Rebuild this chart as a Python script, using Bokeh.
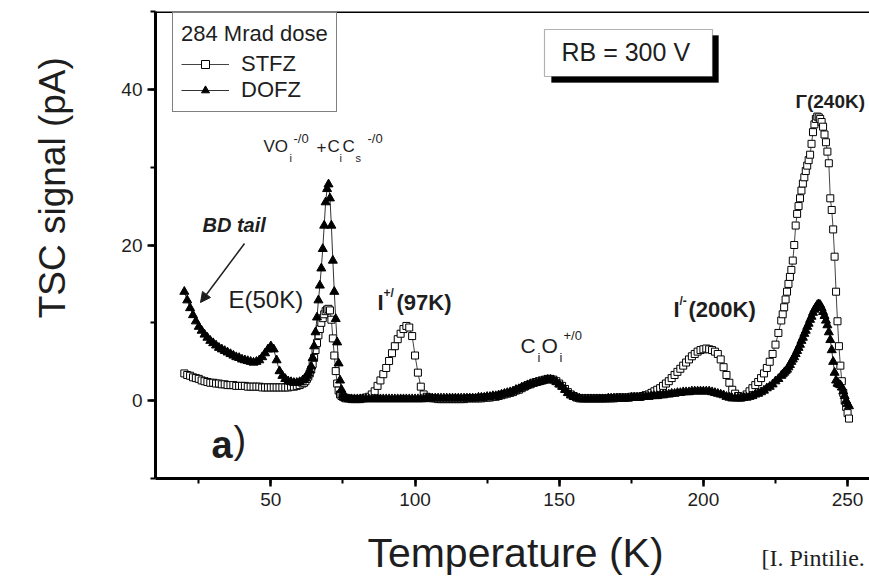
import math
import sys
from bokeh.plotting import figure
from bokeh.layouts import row, column
from bokeh.models import (Range1d, SingleIntervalTicker, Label, Span, BoxAnnotation,
                          Arrow, NormalHead, Legend, LegendItem, ColumnDataSource)
from bokeh.embed import file_html
from bokeh.resources import INLINE

# ---------------- data ----------------
temperature_K = [
    20, 21, 22, 23, 24, 25, 26, 27, 28, 29,
    30, 31, 32, 33, 34, 35, 36, 37, 38, 39,
    40, 41, 42, 43, 44, 45, 46, 47, 48, 49,
    50, 51, 52, 53, 54, 55, 56, 57, 58, 59,
    60, 61,
    61.5, 62, 62.5, 63, 63.5, 64, 64.5, 65, 65.5, 66,
    66.5, 67, 67.5, 68, 68.5, 69, 69.5, 70, 70.5, 71,
    71.5, 72, 72.5, 73, 73.5, 74, 74.5, 75, 75.5, 76,
    77, 78, 79, 80, 81, 82, 83, 84, 85, 86,
    87, 88, 89, 90, 91, 92, 93, 94, 95, 96,
    97, 98, 99, 100, 101, 102, 103, 104, 105, 106,
    107, 108, 109, 110, 111, 112, 113, 114, 115, 116,
    117, 118, 119, 120, 121, 122, 123, 124, 125, 126,
    127, 128, 129, 130, 131, 132, 133, 134, 135, 136,
    137, 138, 139, 140, 141, 142, 143, 144, 145, 146,
    147, 148, 149, 150, 151, 152, 153, 154, 155, 156,
    157, 158, 159, 160, 161, 162, 163, 164, 165, 166,
    167, 168, 169, 170, 171, 172, 173, 174, 175, 176,
    177, 178, 179, 180, 181, 182, 183, 184, 185, 186,
    187, 188, 189, 190, 191, 192, 193, 194, 195, 196,
    197, 198, 199, 200, 201, 202, 203, 204, 205, 206,
    207, 208, 209, 210, 211, 212, 213, 214, 215, 216,
    217, 218, 219, 220, 221, 222, 223, 224, 225, 226,
    227,
    227.5, 228, 228.5, 229, 229.5, 230, 230.5, 231, 231.5, 232,
    232.5, 233, 233.5, 234, 234.5, 235, 235.5, 236, 236.5, 237,
    237.5, 238, 238.5, 239, 239.5, 240, 240.5, 241, 241.5, 242,
    242.5, 243, 243.5, 244, 244.5, 245, 245.5, 246, 246.5, 247,
    247.5, 248, 248.5, 249, 249.5, 250, 250.5,
]

stfz_pA = [
    3.5, 3.3, 3.2, 3.0, 2.9, 2.8, 2.6, 2.5, 2.4, 2.3,
    2.3, 2.2, 2.2, 2.1, 2.1, 2.0, 2.0, 2.0, 1.9, 1.9,
    1.9, 1.9, 1.8, 1.8, 1.8, 1.8, 1.8, 1.7, 1.7, 1.7,
    1.7, 1.7, 1.7, 1.7, 1.7, 1.7, 1.7, 1.8, 1.8, 1.9,
    2.0, 2.2,
    2.3, 2.5, 2.8, 3.1, 3.5, 4.0, 4.7, 5.5, 6.5, 7.4,
    8.4, 9.2, 10.0, 10.6, 11.1, 11.5, 11.7, 11.8, 11.6, 10.4,
    8.0, 5.8, 3.8, 2.2, 1.3, 0.8, 0.6, 0.5, 0.4, 0.3,
    0.3, 0.2, 0.2, 0.2, 0.2, 0.3, 0.4, 0.5, 0.8, 1.2,
    1.9, 2.6, 3.4, 4.2, 5.1, 6.1, 7.0, 7.9, 8.6, 9.2,
    9.6, 9.4, 8.3, 5.8, 3.6, 1.8, 0.8, 0.5, 0.4, 0.3,
    0.3, 0.2, 0.2, 0.2, 0.2, 0.2, 0.2, 0.2, 0.2, 0.2,
    0.2, 0.3, 0.3, 0.3, 0.3, 0.3, 0.3, 0.4, 0.4, 0.4,
    0.5, 0.5, 0.6, 0.7, 0.8, 0.9, 1.0, 1.1, 1.3, 1.4,
    1.6, 1.8, 2.0, 2.1, 2.3, 2.4, 2.5, 2.6, 2.7, 2.8,
    2.8, 2.7, 2.5, 2.2, 1.9, 1.5, 1.1, 0.8, 0.6, 0.4,
    0.3, 0.3, 0.3, 0.3, 0.3, 0.3, 0.3, 0.3, 0.3, 0.3,
    0.3, 0.3, 0.3, 0.4, 0.4, 0.4, 0.4, 0.4, 0.5, 0.5,
    0.5, 0.5, 0.6, 0.7, 0.8, 1.0, 1.2, 1.4, 1.6, 1.9,
    2.2, 2.5, 2.9, 3.3, 3.7, 4.1, 4.5, 4.9, 5.3, 5.7,
    6.0, 6.3, 6.5, 6.6, 6.7, 6.6, 6.5, 6.3, 6.0, 5.3,
    4.3, 3.3, 2.3, 1.4, 0.9, 0.6, 0.4, 0.5, 0.8, 1.2,
    1.6, 2.0, 2.4, 2.9, 3.5, 4.2, 5.0, 6.0, 7.2, 8.7,
    10.3,
    11.1, 12.0, 13.0, 14.0, 15.0, 15.9, 16.8, 18.0, 20.0, 22.5,
    24.0, 25.0, 26.0, 27.0, 27.9, 28.7, 29.5, 30.2, 30.9, 31.6,
    33.0, 34.5, 35.5, 36.2, 36.5, 36.4, 36.2, 35.8, 35.2, 34.2,
    33.2, 32.0, 30.5, 26.0, 24.5, 22.0, 18.5, 14.0, 10.2, 7.0,
    4.5, 2.5, 1.0, 0.0, -0.8, -1.6, -2.3,
]

dofz_pA = [
    14.0, 12.9, 11.9, 11.0, 10.2, 9.5, 9.0, 8.5, 8.1, 7.7,
    7.4, 7.1, 6.8, 6.6, 6.4, 6.2, 6.0, 5.8, 5.6, 5.5,
    5.3, 5.2, 5.1, 5.0, 4.9, 5.0, 5.2, 5.6, 6.1, 6.6,
    7.0, 6.6, 5.2, 3.8, 3.2, 2.8, 2.5, 2.4, 2.3, 2.3,
    2.4, 2.6,
    2.7, 2.9, 3.2, 3.5, 3.9, 4.4, 5.5, 7.0, 8.8, 10.7,
    12.9, 14.8, 17.0, 19.5, 22.5, 25.5, 27.2, 27.8, 26.0, 22.5,
    18.0, 14.0, 10.5, 7.5, 4.8, 2.6, 1.4, 0.7, 0.4, 0.3,
    0.2, 0.2, 0.2, 0.2, 0.2, 0.2, 0.2, 0.2, 0.2, 0.2,
    0.2, 0.2, 0.2, 0.2, 0.2, 0.2, 0.2, 0.2, 0.2, 0.2,
    0.2, 0.2, 0.2, 0.2, 0.2, 0.2, 0.2, 0.3, 0.3, 0.3,
    0.3, 0.3, 0.3, 0.3, 0.3, 0.3, 0.3, 0.3, 0.3, 0.3,
    0.3, 0.3, 0.3, 0.3, 0.3, 0.4, 0.4, 0.4, 0.5, 0.5,
    0.6, 0.6, 0.7, 0.8, 0.9, 1.0, 1.1, 1.2, 1.4, 1.5,
    1.7, 1.8, 2.0, 2.1, 2.2, 2.3, 2.4, 2.5, 2.6, 2.7,
    2.7, 2.6, 2.4, 2.1, 1.8, 1.4, 1.0, 0.7, 0.5, 0.4,
    0.3, 0.2, 0.2, 0.2, 0.2, 0.2, 0.2, 0.2, 0.2, 0.2,
    0.3, 0.3, 0.3, 0.3, 0.3, 0.3, 0.3, 0.3, 0.4, 0.4,
    0.4, 0.4, 0.5, 0.5, 0.5, 0.6, 0.6, 0.6, 0.7, 0.7,
    0.8, 0.8, 0.9, 0.9, 1.0, 1.0, 1.1, 1.1, 1.1, 1.2,
    1.2, 1.2, 1.2, 1.2, 1.2, 1.2, 1.1, 1.0, 0.9, 0.8,
    0.7, 0.5, 0.4, 0.3, 0.3, 0.3, 0.3, 0.4, 0.4, 0.5,
    0.6, 0.8, 0.9, 1.1, 1.3, 1.6, 1.8, 2.1, 2.5, 2.8,
    3.2,
    3.4, 3.6, 3.8, 4.0, 4.3, 4.6, 5.0, 5.3, 5.6, 6.0,
    6.4, 6.8, 7.2, 7.7, 8.1, 8.6, 9.0, 9.5, 9.9, 10.4,
    10.8, 11.3, 11.7, 12.0, 12.3, 12.4, 12.3, 11.9, 11.4, 10.9,
    10.3, 9.7, 8.8, 7.8, 6.5, 5.0, 3.6, 2.6, 2.2, 2.1,
    2.0, 1.7, 1.2, 0.6, 0.0, -0.4, -0.7,
]

series_names = ["STFZ", "DOFZ"]
legend_title = "284 Mrad dose"
x_label = "Temperature (K)"
y_label = "TSC signal (pA)"
credit = "[I. Pintilie."

print(len(temperature_K), len(stfz_pA), len(dofz_pA), file=sys.stderr)

# ---------------- layout (page pixels) ----------------
W, H = 869, 579
LEFT_W = 100          # strip holding the vertical axis title
BOT_H = 57            # strip holding the horizontal axis title
MAIN_W, MAIN_H = W - LEFT_W, H - BOT_H
FL, FT, FB, FR = 155, 11, 478, 869
X0, X1, Y0, Y1 = 10, 257.6, -10, 50
INK = "#1e1e1e"
SANS = "Liberation Sans"


def X(px):
    return X0 + (px - FL) * (X1 - X0) / (FR - FL)


def Y(py):
    return Y0 + (FB - py) * (Y1 - Y0) / (FB - FT)


def plain_fig(w, h, x0, x1, y_top, y_bot):
    f = figure(width=w, height=h, output_backend="svg", toolbar_location=None,
               x_range=Range1d(x0, x1), y_range=Range1d(y_bot, y_top),
               x_axis_type=None, y_axis_type=None,
               min_border=0, min_border_left=0, min_border_right=0,
               min_border_top=0, min_border_bottom=0)
    f.outline_line_color = None
    f.grid.visible = False
    f.background_fill_color = "white"
    f.border_fill_color = "white"
    return f


p = figure(width=MAIN_W, height=MAIN_H, output_backend="svg", toolbar_location=None,
           x_range=Range1d(X0, X1), y_range=Range1d(Y0, Y1),
           min_border_left=FL - LEFT_W, min_border_right=0, min_border_top=FT,
           min_border_bottom=MAIN_H - FB)
p.outline_line_color = None
p.grid.visible = False
p.background_fill_color = "white"
p.border_fill_color = "white"

p.xaxis.ticker = SingleIntervalTicker(interval=50, num_minor_ticks=2)
p.yaxis.ticker = SingleIntervalTicker(interval=20, num_minor_ticks=2)
for ax in (p.xaxis[0], p.yaxis[0]):
    ax.axis_line_width = 3
    ax.axis_line_color = "black"
    ax.major_tick_line_width = 2.5
    ax.minor_tick_line_width = 2
    ax.major_tick_line_color = "black"
    ax.minor_tick_line_color = "black"
    ax.major_tick_out = 8
    ax.major_tick_in = 0
    ax.minor_tick_out = 5
    ax.minor_tick_in = 0
    ax.major_label_text_font = SANS
    ax.major_label_text_font_size = "19px"
    ax.major_label_text_color = INK
p.xaxis[0].major_label_standoff = 6
p.yaxis[0].major_label_standoff = 5

# top frame line
p.add_layout(Span(location=Y1, dimension="width", line_color="black", line_width=3))

src = ColumnDataSource(dict(T=temperature_K, stfz=stfz_pA, dofz=dofz_pA))

s_line = p.line("T", "stfz", source=src, line_color="#444444", line_width=1)
s_pts = p.scatter("T", "stfz", source=src, marker="square", size=7,
                  fill_color="white", line_color="black", line_width=1)
d_line = p.line("T", "dofz", source=src, line_color="#333333", line_width=1)
d_pts = p.scatter("T", "dofz", source=src, marker="triangle", size=9,
                  fill_color="black", line_color="black", line_width=1)

legend = Legend(items=[LegendItem(label=series_names[0], renderers=[s_line, s_pts]),
                       LegendItem(label=series_names[1], renderers=[d_line, d_pts])],
                title=legend_title, location=(17, 366))
legend.padding = 8
legend.spacing = 0
legend.margin = 0
legend.glyph_width = 48
legend.glyph_height = 20
legend.label_height = 24
legend.label_standoff = 12
legend.title_standoff = 4
legend.border_line_color = "black"
legend.border_line_width = 1.2
legend.background_fill_color = "white"
legend.background_fill_alpha = 1
legend.title_text_font = SANS
legend.title_text_font_size = "22px"
legend.title_text_font_style = "normal"
legend.title_text_color = INK
legend.label_text_font = SANS
legend.label_text_font_size = "22px"
legend.label_text_color = INK
p.add_layout(legend)


def lab(fig, text, x, y, size, style="normal", font=SANS, align="left",
        baseline="middle", angle=0.0):
    fig.add_layout(Label(x=x, y=y, text=text, text_font=font,
                         text_font_size=f"{size}px", text_font_style=style,
                         text_color=INK, text_align=align, text_baseline=baseline,
                         angle=angle))


def plab(text, px, py, size, **kw):
    lab(p, text, X(px), Y(py), size, **kw)


# RB box with shadow
p.add_layout(BoxAnnotation(left=X(551), right=X(718), top=Y(35), bottom=Y(82),
                           fill_color="black", fill_alpha=1, line_color="black"))
p.add_layout(BoxAnnotation(left=X(544), right=X(712), top=Y(29), bottom=Y(76),
                           fill_color="white", fill_alpha=1, line_color="black",
                           line_width=1.2))
plab("RB = 300 V", 561, 51, 25)

# VO_i^-/0 + C_iC_s^-/0
plab("VO", 263, 146, 17)
plab("i", 289, 157, 11)
plab("-/0", 293, 138, 13)
plab("+", 316, 146, 17)
plab("C", 327, 146, 17)
plab("i", 339, 157, 11)
plab("C", 342, 146, 17)
plab("s", 355, 157, 11)
plab("-/0", 367, 138, 13)

# BD tail
plab("BD tail", 202, 224, 20, style="bold italic")
p.add_layout(Arrow(end=NormalHead(size=10, fill_color=INK, line_color=INK),
                   x_start=X(244), y_start=Y(243), x_end=X(200), y_end=Y(302),
                   line_color=INK, line_width=1.5))

plab("E(50K)", 228, 299, 24)

plab("I", 377, 302, 22, style="bold")
plab("+/", 383, 292, 12, style="bold")
plab("(97K)", 396, 302, 22, style="bold")

plab("C", 520, 345, 21)
plab("i", 537, 357, 13)
plab("O", 541, 345, 21)
plab("i", 559, 357, 13)
plab("+/0", 563, 335, 13)

plab("I", 673, 309, 22, style="bold")
plab("/-", 679, 300, 12, style="bold")
plab("(200K)", 688, 309, 22, style="bold")

plab("\u0393(240K)", 795, 101, 19, style="bold")

plab("a", 211, 444, 38, style="bold")
plab(")", 233, 439, 38)

# strip on the left: vertical axis title (coordinates are page pixels)
left_strip = plain_fig(LEFT_W, MAIN_H, 0, LEFT_W, 0, MAIN_H)
lab(left_strip, y_label, 52, 197, 37, align="center", angle=math.pi / 2)

# strip at the bottom: horizontal axis title and credit
bottom_strip = plain_fig(W, BOT_H, 0, W, MAIN_H, H)
lab(bottom_strip, x_label, 515, 552, 41, align="center")
lab(bottom_strip, credit, 761, 557, 24, font="Liberation Serif")

layout = column(row(left_strip, p, spacing=0), bottom_strip, spacing=0)

open("out.html", "w").write(file_html(layout, INLINE))
